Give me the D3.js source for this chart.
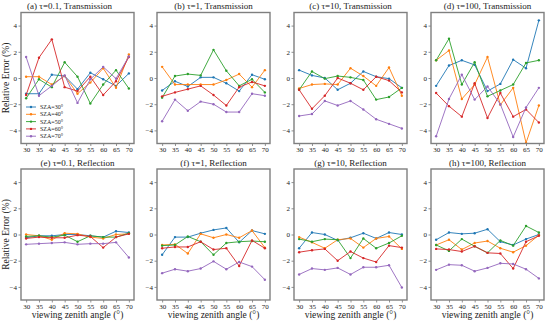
<!DOCTYPE html>
<html>
<head>
<meta charset="utf-8">
<script src="https://cdn.jsdelivr.net/npm/d3@7"></script>
<style>
  body { margin: 0; background: #fff; }
  text { font-family: "Liberation Serif", "DejaVu Serif", serif; fill: #222; }
</style>
</head>
<body>
<div id="chart"></div>
<script>
// viewing zenith angles and series names
const vza = [30, 35, 40, 45, 50, 55, 60, 65, 70]
const szaLabels = ["SZA=30°", "SZA=40°", "SZA=50°", "SZA=60°", "SZA=70°"]
const colors = ["#1f77b4", "#ff7f0e", "#2ca02c", "#d62728", "#9467bd"]
const yTicks = [-4, -2, 0, 2, 4]

const titles = [
  "(a) τ=0.1, Transmission", "(b) τ=1, Transmission", "(c) τ=10, Transmission", "(d) τ=100, Transmission",
  "(e) τ=0.1, Reflection", "(f) τ=1, Reflection", "(g) τ=10, Reflection", "(h) τ=100, Reflection"
]

// relative error (%), one array per SZA, for each panel
const transTau01 = [
  [-1.2, -1.2, 0.25, 0.15, -0.85, 0.4, -0.1, -0.6, 0.35],
  [0.1, 0.1, -0.5, 0.15, -1.2, -0.35, 0.75, -0.75, 1.8],
  [-1.55, -0.1, -0.7, 1.2, 0.1, -1.95, -0.5, 0.6, -0.8],
  [-1.3, 1.55, 2.95, -0.7, -1.0, 0.1, -1.3, -0.25, 1.6],
  [1.6, -1.35, -0.6, 0.2, -1.9, -0.1, 0.85, -0.05, 1.65]
]
const transTau1 = [
  [-0.95, -0.25, -0.65, 0.05, 0.05, -0.4, -1.0, 0.25, -0.1],
  [0.85, -0.5, -0.5, -0.5, -0.5, -0.15, 0.3, -0.7, 0.6],
  [-1.5, 0.15, 0.3, 0.2, 2.15, 0.55, -0.6, -0.1, -1.1],
  [-1.4, -1.1, -0.85, -0.6, -1.3, -2.1, -0.7, -0.3, -0.6],
  [-3.3, -1.65, -2.5, -1.8, -2.0, -2.6, -2.6, -1.2, -1.35]
]
const transTau10 = [
  [0.6, 0.2, 0, -0.9, -0.4, 0.5, 0.1, -0.05, -0.75],
  [-0.8, -0.5, -0.45, -0.5, 0.75, 0.15, -0.6, 0.8, -1.35],
  [-0.9, 0.5, -0.05, 0.15, 0.05, -0.15, -1.65, -1.45, -0.75],
  [-0.9, -2.35, -1.35, 0, -0.4, -0.9, 0.1, -0.2, -1.1],
  [-2.9, -2.75, -1.75, -2.1, -1.75, -2.4, -3.15, -3.5, -3.85]
]
const transTau100 = [
  [-0.6, 0.95, 1.35, 1.0, -1.0, -0.45, 1.4, 0.75, 4.4],
  [1.35, 2.1, -1.6, -0.5, 1.6, -2.05, -0.75, -4.95, -2.1],
  [1.35, 3.0, -0.5, 1.2, -1.4, -0.95, -0.5, 1.15, 1.35],
  [-1.15, -2.15, -2.95, -0.4, -3.05, -1.15, -2.95, -2.4, -3.4],
  [-4.45, -1.6, 0.25, -1.65, -0.65, -2.0, -4.5, -2.25, -0.75]
]
const reflTau01 = [
  [-0.25, -0.1, -0.1, 0, 0, -0.1, -0.2, 0.25, 0.15],
  [0, -0.1, -0.4, 0.1, 0.05, -0.2, -0.3, 0, 0.05],
  [-0.15, -0.1, -0.2, -0.05, -0.55, -0.1, -0.2, -0.2, 0.1],
  [-0.3, -0.2, -0.25, -0.25, -0.05, -0.15, -1.0, -0.2, 0.05],
  [-0.75, -0.7, -0.65, -0.6, -0.75, -0.7, -0.7, -0.6, -1.75]
]
const reflTau1 = [
  [-1.55, -0.2, -0.2, 0.1, 0.35, 0.5, -0.6, 0.3, 0.05],
  [-0.8, -0.75, -1.45, 0.05, -0.25, 0, -0.25, 0.3, -1.0],
  [-0.85, -0.8, -0.15, -0.55, -1.55, -0.65, -0.55, -0.5, -0.55],
  [-1.05, -0.95, -0.95, -0.55, -1.15, -1.05, -2.4, -0.45, -1.05],
  [-2.95, -2.65, -2.8, -2.6, -2.05, -2.65, -2.1, -2.45, -3.45]
]
const reflTau10 = [
  [-1.05, 0.15, 0, -0.45, -0.25, 0.1, -0.3, 0.15, 0],
  [-0.2, -0.6, -1.05, -0.4, -0.3, -1.0, -0.3, -0.15, -1.1],
  [-0.35, -0.55, -0.35, -0.4, -1.8, -0.3, -1.05, -0.65, -0.1],
  [-1.35, -1.2, -1.1, -2.0, -1.3, -1.8, -2.1, -0.85, -1.0],
  [-3.05, -2.6, -2.7, -2.55, -3.05, -2.5, -2.5, -2.35, -4.05]
]
const reflTau100 = [
  [-0.4, 0.15, 0.05, 0.1, 0.4, -0.55, -0.8, -0.35, 0],
  [-0.8, -0.4, -1.15, -0.65, -0.5, -1.05, -1.35, -0.85, -0.05],
  [-0.8, -1.25, -0.35, -0.9, -1.4, -0.45, -0.85, 0.65, 0.15],
  [-1.1, -1.15, -1.3, -0.9, -1.4, -1.45, -2.6, -0.55, -0.1],
  [-2.7, -2.3, -2.35, -2.8, -2.55, -2.2, -2.25, -2.65, -3.35]
]

const panels = [transTau01, transTau1, transTau10, transTau100,
                reflTau01, reflTau1, reflTau10, reflTau100]

const width = 550
const height = 323

const svg = d3.select("#chart")
              .append("svg")
              .attr("width", width)
              .attr("height", height)

const lefts = [21, 157, 294, 431]
const tops = [12.5, 169]
const pw = 113
const ph = 131

panels.forEach(function(series, p) {
  const col = p % 4
  const row = Math.floor(p / 4)
  const g = svg.append("g")
               .attr("transform", "translate(" + lefts[col] + "," + tops[row] + ")")

  const x = d3.scaleLinear().domain([28, 72]).range([0, pw])
  const y = d3.scaleLinear().domain([-5, 5]).range([ph, 0])

  const xAxis = d3.axisBottom(x).tickValues(vza).tickSizeOuter(0).tickSize(2.5).tickPadding(1.5)
  const yAxis = d3.axisLeft(y).tickValues(yTicks).tickSizeOuter(0).tickSize(2.5).tickPadding(1.5)

  const gx = g.append("g").attr("transform", "translate(0," + ph + ")").call(xAxis)
  const gy = g.append("g").call(yAxis)
  ;[gx, gy].forEach(function(a) {
    a.select(".domain").remove()
    a.selectAll("line").attr("stroke", "#444").attr("stroke-width", 0.6)
    a.selectAll("text").style("font-family", "Liberation Serif").style("font-size", "7px").attr("fill", "#222")
  })

  const line = d3.line().x(function(d, i) { return x(vza[i]) }).y(function(d) { return y(d) })

  const clip = "clip" + p
  g.append("clipPath").attr("id", clip).append("rect").attr("width", pw).attr("height", ph)
  const plot = g.append("g").attr("clip-path", "url(#" + clip + ")")

  series.forEach(function(vals, s) {
    plot.append("path")
        .datum(vals)
        .attr("d", line)
        .attr("fill", "none")
        .attr("stroke", colors[s])
        .attr("stroke-width", 0.9)
    plot.selectAll(".m" + s)
        .data(vals)
        .enter()
        .append("circle")
        .attr("cx", function(d, i) { return x(vza[i]) })
        .attr("cy", function(d) { return y(d) })
        .attr("r", 1.2)
        .attr("fill", colors[s])
  })

  // frame
  g.append("rect")
   .attr("width", pw)
   .attr("height", ph)
   .attr("fill", "none")
   .attr("stroke", "#7f7f7f")
   .attr("stroke-width", 1.4)

  g.append("text")
   .attr("x", p == 0 ? pw / 2 - 8 : pw / 2)
   .attr("y", -3.5)
   .attr("text-anchor", "middle")
   .style("font-size", "9px")
   .text(titles[p])

  if (row == 1) {
    g.append("text")
     .attr("x", pw / 2)
     .attr("y", ph + 18)
     .attr("text-anchor", "middle")
     .style("font-size", "9.5px")
     .text("viewing zenith angle (°)")
  }
  if (col == 0) {
    g.append("text")
     .attr("transform", "rotate(-90)")
     .attr("x", -ph / 2)
     .attr("y", -12)
     .attr("text-anchor", "middle")
     .style("font-size", "9.5px")
     .text("Relative Error (%)")
  }

  // legend in first panel
  if (p == 0) {
    const legend = g.append("g").attr("id", "legend")
    szaLabels.forEach(function(lab, s) {
      const ly = 94.5 + s * 7.3
      legend.append("line")
            .attr("x1", 5).attr("x2", 15)
            .attr("y1", ly).attr("y2", ly)
            .attr("stroke", colors[s]).attr("stroke-width", 0.9)
      legend.append("circle").attr("cx", 10).attr("cy", ly).attr("r", 1.2).attr("fill", colors[s])
      legend.append("text")
            .attr("x", 19)
            .attr("y", ly + 2)
            .style("font-size", "6px")
            .text(lab)
    })
  }
})
</script>
</body>
</html>
